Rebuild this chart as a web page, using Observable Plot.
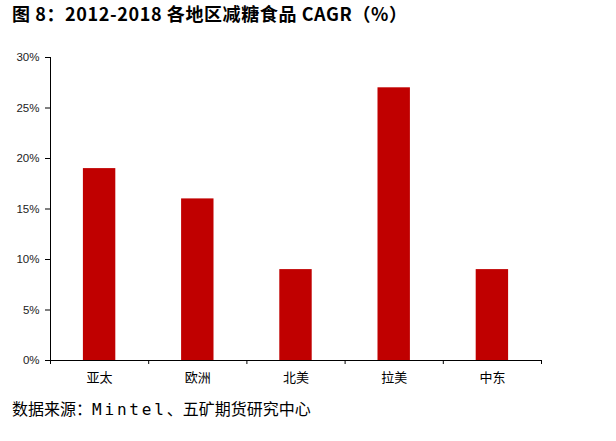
<!DOCTYPE html>
<html><head><meta charset="utf-8">
<script src="https://cdn.jsdelivr.net/npm/d3@7"></script>
<script src="https://cdn.jsdelivr.net/npm/@observablehq/plot@0.6"></script>
<style>
body{margin:0;background:#fff;width:616px;height:441px;overflow:hidden}
#title{height:38px;line-height:37px;padding-left:12px;font:bold 18px "Noto Sans CJK SC",sans-serif;letter-spacing:0.6px;color:#000;white-space:nowrap}
#cap{height:32px;line-height:32px;padding-left:12px;font:16px "Noto Sans CJK SC",sans-serif;color:#000;white-space:nowrap}
#cap .lat{font-family:"DejaVu Sans Mono",monospace;font-size:16px;letter-spacing:2.8px}
svg{display:block}
</style></head><body>
<div id="title">图 8：2012-2018 各地区减糖食品 CAGR（%）</div>
<div id="chart"></div>
<div id="cap">数据来源：<span class="lat">Mintel</span>、五矿期货研究中心</div>
<script>
const categories = ["亚太","欧洲","北美","拉美","中东"];
const values = [19, 16, 9, 27, 9];
const yTicks = [0,5,10,15,20,25,30];

const data = categories.map((c,i)=>({cat:c, idx:i, value:values[i]}));
const pad = 0.335;
const chart = Plot.plot({
  width: 616, height: 358,
  marginTop: 19, marginBottom: 36, marginLeft: 50, marginRight: 75,
  x: {type:"linear", domain:[0, categories.length]},
  y: {domain:[0,30]},
  style: {fontFamily:"'Liberation Sans', Arial, sans-serif", background:"#fff", color:"#000"},
  marks: [
    Plot.rectY(data, {x1: d=>d.idx+pad, x2: d=>d.idx+1-pad, y1: 0, y2: "value", fill:"#C00000"}),
    Plot.axisY({ticks:yTicks, tickSize:5, tickPadding:6, tickFormat:d=>d+"%", fontSize:11.5, fill:"#222", label:null}),
    Plot.ruleX([0], {y1:0, y2:30, stroke:"#000"}),
    Plot.ruleY([0], {x1:0, x2:categories.length, stroke:"#000"}),
    Plot.axisX({ticks:d3.range(categories.length+1), tickSize:4, tickFormat:()=>"", label:null}),
    Plot.axisX({ticks:categories.map((c,i)=>i+0.5), tickSize:0, tickPadding:12, tickFormat:(d)=>categories[Math.floor(d)], fontSize:13, fontFamily:"'Noto Sans CJK SC', sans-serif", fill:"#000", label:null})
  ]
});
document.getElementById("chart").appendChild(chart);
</script>
</body></html>
